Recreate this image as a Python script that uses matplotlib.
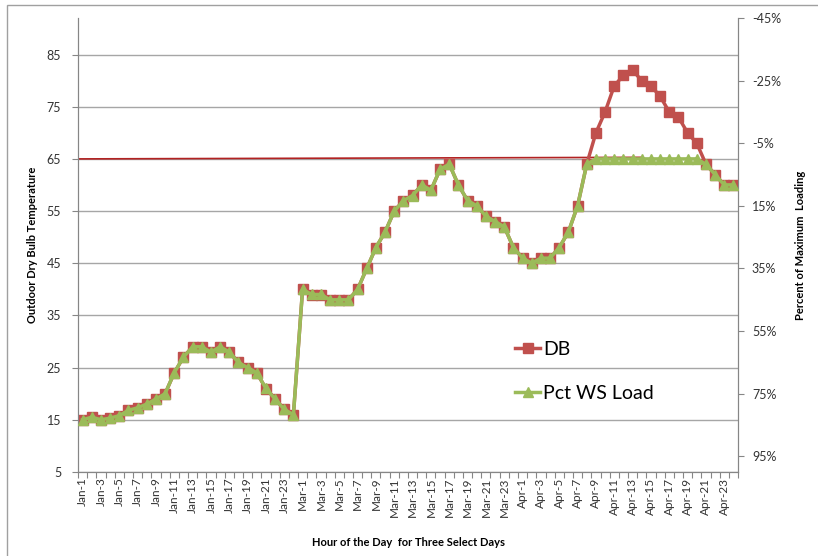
import numpy as np
import matplotlib
matplotlib.use("Agg")
import matplotlib.pyplot as plt
from matplotlib.patches import Rectangle
from matplotlib.ticker import FuncFormatter

plt.rcParams['font.family'] = ['Lato', 'DejaVu Sans']

# hours of the three select days
days = ['Jan', 'Mar', 'Apr']
hours = list(range(1, 25))
labels = [f'{d}-{h}' for d in days for h in hours]

# outdoor dry bulb temperature (F)
db_jan = [15, 15.5, 15, 15.3, 15.8, 16.8, 17.3, 18, 19, 20, 24, 27,
          29, 29, 28, 29, 28, 26, 25, 24, 21, 19, 17, 16]
db_mar = [40, 39, 39, 38, 38, 38, 40, 44, 48, 51, 55, 57,
          58, 60, 59, 63, 64, 60, 57, 56, 54, 53, 52, 48]
db_apr = [46, 45, 46, 46, 48, 51, 56, 64, 70, 74, 79, 81,
          82, 80, 79, 77, 74, 73, 70, 68, 64, 62, 60, 60]
db = db_jan + db_mar + db_apr

# percent of maximum loading (right axis)
ws_jan = [83.3, 82.5, 83.3, 82.8, 82.0, 80.3, 79.5, 78.3, 76.7, 75.0, 68.3, 63.3,
          60.0, 60.0, 61.7, 60.0, 61.7, 65.0, 66.7, 68.3, 73.3, 76.7, 80.0, 81.7]
ws_mar = [41.7, 43.3, 43.3, 45.0, 45.0, 45.0, 41.7, 35.0, 28.3, 23.3, 16.7, 13.3,
          11.7, 8.3, 10.0, 3.3, 1.7, 8.3, 13.3, 15.0, 18.3, 20.0, 21.7, 28.3]
ws_apr = [31.7, 33.3, 31.7, 31.7, 28.3, 23.3, 15.0, 1.7, 0, 0, 0, 0,
          0, 0, 0, 0, 0, 0, 0, 0, 1.7, 5.0, 8.3, 8.3]
ws = ws_jan + ws_mar + ws_apr

ref_temp = 65
ref_end = 'Apr-14'

red = '#C0504D'
green = '#9BBB59'
grid_c = '#A6A6A6'
spine_c = '#868686'
txt_c = '#333333'

fig = plt.figure(figsize=(8.18, 5.56), dpi=100)
ax = fig.add_axes([78/818, 84/556, 660/818, 454/556])
ax2 = ax.twinx()

x = np.arange(len(labels))

ax.set_xlim(-0.5, len(labels) - 0.5)
ax.set_ylim(5, 92)
ax.set_yticks(np.arange(5, 90, 10))
ax.yaxis.grid(True, color=grid_c, lw=1)
ax.set_axisbelow(True)

ax.plot([-0.5, labels.index(ref_end)], [ref_temp, ref_temp + 0.3],
        color='#B22222', lw=1.2, zorder=2)
l1, = ax.plot(x, db, color=red, lw=2.5, marker='s', ms=6.5,
              markeredgecolor=red, label='DB', zorder=3)

ax2.set_ylim(100, -45)
ax2.set_yticks(np.arange(-45, 100, 20))
ax2.yaxis.set_major_formatter(FuncFormatter(lambda v, p: f'{v:.0f}%'))
l2, = ax2.plot(x, ws, color=green, lw=2.5, marker='^', ms=7,
               markeredgecolor=green, label='Pct WS Load', zorder=3)

# x ticks: marks between categories, labels on every other hour
ax.set_xticks(np.arange(-0.5, len(labels), 1))
ax.set_xticklabels([])
ax.set_xticks(x[::2], minor=True)
ax.set_xticklabels(labels[::2], minor=True, rotation=90)
ax.tick_params(axis='x', which='major', length=4, color=spine_c)
ax.tick_params(axis='x', which='minor', length=0, labelsize=8.5, labelcolor=txt_c, pad=4)
ax.tick_params(axis='y', length=4, color=spine_c, labelsize=9, labelcolor=txt_c, pad=8)
ax2.tick_params(axis='y', length=4, color=spine_c, labelsize=9, labelcolor=txt_c, pad=6)

for a in (ax, ax2):
    a.spines['top'].set_visible(False)
    for s in ('left', 'right', 'bottom'):
        a.spines[s].set_color(spine_c)

ax.set_ylabel('Outdoor Dry Bulb Temperature', fontsize=8, fontweight='bold', labelpad=6)
ax2.set_ylabel('Percent of Maximum  Loading', fontsize=8, fontweight='bold', labelpad=10)
ax.set_xlabel('Hour of the Day  for Three Select Days', fontsize=8, fontweight='bold', labelpad=14)

ax2.legend(handles=[l1, l2], loc='upper left', bbox_to_anchor=(515/818, 1 - 341/556),
           bbox_transform=fig.transFigure, frameon=False, fontsize=14,
           handlelength=1.3, handletextpad=0.15, labelspacing=1.4,
           borderpad=0, borderaxespad=0)

fig.patches.append(Rectangle((7/818, -0.1), 1.2, 1 - 5/556 + 0.1, transform=fig.transFigure,
                             fill=False, edgecolor='#A0A0A0', lw=1))

fig.savefig('out.png', dpi=100)
